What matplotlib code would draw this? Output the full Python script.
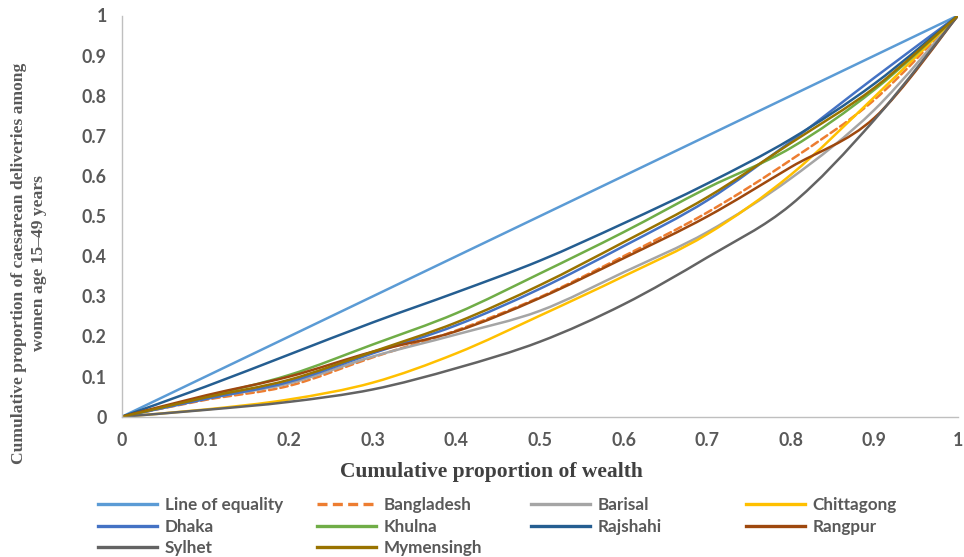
import matplotlib
matplotlib.use("Agg")
import matplotlib.pyplot as plt
from matplotlib.lines import Line2D
from matplotlib.path import Path
from matplotlib.patches import PathPatch

# ---- data ----
wealth = [0.0, 0.1, 0.2, 0.3, 0.4, 0.5, 0.6, 0.7, 0.8, 0.9, 1.0]
equality   = [0.0, 0.1, 0.2, 0.3, 0.4, 0.5, 0.6, 0.7, 0.8, 0.9, 1.0]
bangladesh = [0.0, 0.042, 0.077, 0.148, 0.215, 0.298, 0.400, 0.509, 0.640, 0.790, 1.0]
barisal    = [0.0, 0.045, 0.083, 0.150, 0.205, 0.264, 0.360, 0.460, 0.594, 0.765, 1.0]
chittagong = [0.0, 0.018, 0.043, 0.085, 0.158, 0.252, 0.350, 0.455, 0.603, 0.797, 1.0]
dhaka      = [0.0, 0.044, 0.087, 0.158, 0.228, 0.319, 0.425, 0.539, 0.686, 0.845, 1.0]
khulna     = [0.0, 0.050, 0.104, 0.180, 0.258, 0.357, 0.460, 0.570, 0.670, 0.815, 1.0]
rajshahi   = [0.0, 0.075, 0.155, 0.235, 0.310, 0.389, 0.482, 0.581, 0.692, 0.830, 1.0]
rangpur    = [0.0, 0.053, 0.100, 0.162, 0.213, 0.296, 0.395, 0.499, 0.622, 0.745, 1.0]
sylhet     = [0.0, 0.017, 0.037, 0.068, 0.121, 0.187, 0.280, 0.397, 0.528, 0.740, 1.0]
mymensingh = [0.0, 0.048, 0.092, 0.162, 0.235, 0.328, 0.435, 0.547, 0.682, 0.820, 1.0]

series_names = ["Line of equality", "Bangladesh", "Barisal", "Chittagong", "Dhaka",
                "Khulna", "Rajshahi", "Rangpur", "Sylhet", "Mymensingh"]
series_values = [equality, bangladesh, barisal, chittagong, dhaka,
                 khulna, rajshahi, rangpur, sylhet, mymensingh]
tick_values = [0, 0.1, 0.2, 0.3, 0.4, 0.5, 0.6, 0.7, 0.8, 0.9, 1]
tick_labels = ["0", "0.1", "0.2", "0.3", "0.4", "0.5", "0.6", "0.7", "0.8", "0.9", "1"]

colors = ["#5B9BD5", "#ED7D31", "#A5A5A5", "#FFC000", "#4472C4",
          "#70AD47", "#255E91", "#9E480E", "#636363", "#997300"]
styles = ["-", (0, (3, 1.6)), "-", "-", "-", "-", "-", "-", "-", "-"]


def smooth_path(xs, ys):
    """Excel-style smoothed line: Bezier segments through the data points."""
    pts = list(zip(xs, ys))
    n = len(pts)
    verts = [pts[0]]
    codes = [Path.MOVETO]
    for i in range(n - 1):
        p0 = pts[i - 1] if i > 0 else pts[i]
        p1 = pts[i]
        p2 = pts[i + 1]
        p3 = pts[i + 2] if i + 2 < n else pts[i + 1]
        c1 = (p1[0] + (p2[0] - p0[0]) / 6, p1[1] + (p2[1] - p0[1]) / 6)
        c2 = (p2[0] - (p3[0] - p1[0]) / 6, p2[1] - (p3[1] - p1[1]) / 6)
        verts += [c1, c2, p2]
        codes += [Path.CURVE4] * 3
    return Path(verts, codes)


W, H = 964, 557
fig = plt.figure(figsize=(W / 100, H / 100), dpi=100)
ax = fig.add_axes([122 / W, 1 - 416.7 / H, (958 - 122) / W, (416.7 - 15.5) / H])

handles = {}
for name, vals, c, ls in zip(series_names, series_values, colors, styles):
    patch = PathPatch(smooth_path(wealth, vals), facecolor="none", edgecolor=c,
                      linestyle=ls, linewidth=1.8, capstyle="round", joinstyle="round")
    ax.add_patch(patch)
    handles[name] = Line2D([], [], color=c, linestyle=ls, linewidth=2.4)

ax.set_xlim(0, 1)
ax.set_ylim(0, 1)
ax.set_xticks(tick_values)
ax.set_xticklabels(tick_labels)
ax.set_yticks(tick_values)
ax.set_yticklabels(tick_labels)
for s in ["top", "right"]:
    ax.spines[s].set_visible(False)
for s in ["left", "bottom"]:
    ax.spines[s].set_color("#BFBFBF")
    ax.spines[s].set_linewidth(1.0)
ax.tick_params(length=0, pad=11, labelsize=12.8, labelcolor="#595959")
for lab in ax.get_xticklabels() + ax.get_yticklabels():
    lab.set_fontfamily("Lato")
    lab.set_fontweight("bold")

fig.text(491 / W, 1 - 472 / H, "Cumulative proportion of wealth",
         ha="center", va="center", fontsize=15.5, fontweight="bold",
         family="Liberation Serif", color="#404040")
fig.text(29 / W, 1 - 263 / H,
         "Cumulative proportion of caesarean deliveries among\nwomen age 15\u201349 years",
         ha="center", va="center", rotation=90, fontsize=12.6, fontweight="bold",
         family="Liberation Serif", color="#595959", multialignment="center",
         linespacing=1.3)

# legend: 4 columns, row-major order as in the reference
columns = [["Line of equality", "Dhaka", "Sylhet"],
           ["Bangladesh", "Khulna", "Mymensingh"],
           ["Barisal", "Rajshahi"],
           ["Chittagong", "Rangpur"]]
col_x = [98, 317, 531, 746]
for names, x in zip(columns, col_x):
    leg = fig.legend([handles[n] for n in names], names, loc="upper left",
                     bbox_to_anchor=(x / W, 1 - 497 / H), frameon=False,
                     prop={"family": "Lato", "size": 12.3, "weight": "bold"},
                     labelcolor="#595959",
                     handlelength=3.45, handletextpad=0.45, labelspacing=0.33,
                     borderpad=0, borderaxespad=0)
    for t in leg.get_texts():
        t.set_fontweight("bold")

fig.savefig("out.png", dpi=100)
